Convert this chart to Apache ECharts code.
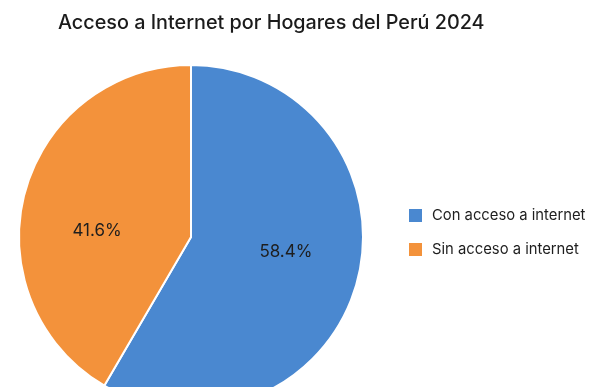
<!DOCTYPE html>
<html>
<head>
<meta charset="utf-8">
<script src="https://cdn.jsdelivr.net/npm/echarts@6/dist/echarts.min.js"></script>
<style>
  html, body { margin: 0; padding: 0; background: #ffffff; }
  #chart { width: 591px; height: 387px; }
</style>
</head>
<body>
<div id="chart"></div>
<script>
// Household internet access in Peru, 2024 (percent of households)
const titleText = 'Acceso a Internet por Hogares del Perú 2024';
const categories = ['Con acceso a internet', 'Sin acceso a internet'];
const shares = [58.4, 41.6];
const sliceColors = ['#4a88d0', '#f3923b'];

// nudges that pull the in-slice value labels toward the horizontal middle
const labelNudge = [[9, -8], [-8, 17]];

const chart = echarts.init(document.getElementById('chart'), null, { renderer: 'canvas' });

chart.setOption({
  backgroundColor: '#ffffff',
  animation: false,
  title: {
    text: titleText,
    left: 53,
    top: 8,
    textStyle: {
      fontFamily: 'Inter',
      fontSize: 19.8,
      fontWeight: 500,
      color: '#1b1b1b'
    }
  },
  legend: {
    orient: 'vertical',
    left: 402,
    top: 202,
    itemWidth: 15,
    itemHeight: 15,
    itemGap: 17,
    icon: 'rect',
    data: categories,
    textStyle: {
      fontFamily: 'Inter',
      fontSize: 14.8,
      color: '#1e1e1e',
      padding: [0, 0, 0, 4]
    }
  },
  series: [{
    type: 'pie',
    center: [191, 237],
    radius: [0, 172],
    startAngle: 90,
    clockwise: true,
    avoidLabelOverlap: false,
    itemStyle: {
      borderColor: '#ffffff',
      borderWidth: 2
    },
    label: {
      show: true,
      position: 'inside',
      formatter: p => p.value.toFixed(1) + '%',
      fontFamily: 'Inter',
      fontSize: 17,
      color: '#1e1e1e'
    },
    labelLayout: p => ({ dx: labelNudge[p.dataIndex][0], dy: labelNudge[p.dataIndex][1] }),
    labelLine: { show: false },
    emphasis: { disabled: true },
    data: categories.map((name, i) => ({
      name: name,
      value: shares[i],
      itemStyle: { color: sliceColors[i] }
    }))
  }]
});
</script>
</body>
</html>
